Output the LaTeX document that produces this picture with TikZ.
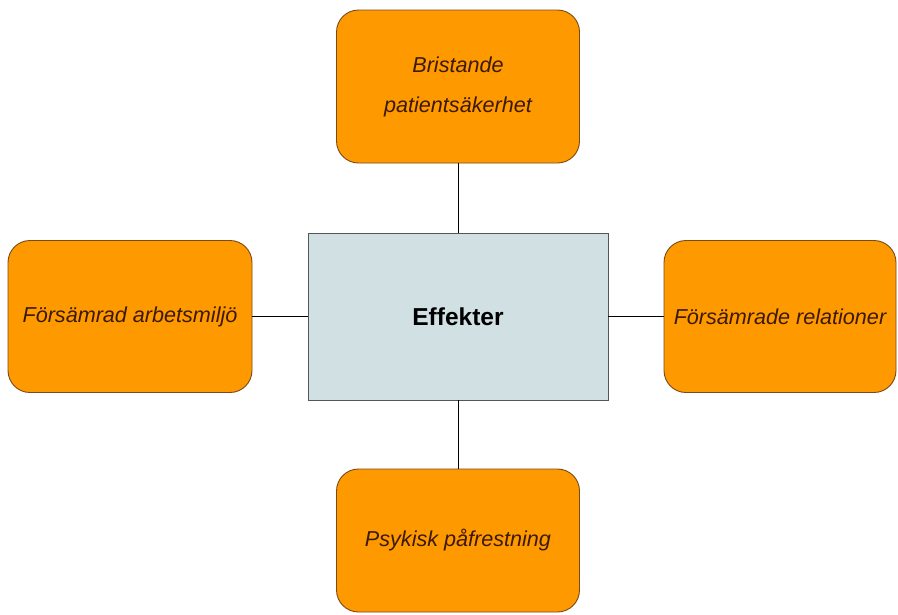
\documentclass[tikz,border=0pt]{standalone}
\usepackage{fontspec}
\setmainfont{Liberation Sans}
\definecolor{boxorange}{HTML}{FF9900}
\definecolor{boxbrown}{HTML}{7A4A1A}
\definecolor{textbrown}{HTML}{3C1A08}
\definecolor{centerfill}{HTML}{D0E0E3}
\definecolor{centerline}{HTML}{555555}
\begin{document}
\begin{tikzpicture}[x=1pt,y=-1pt,line width=0.9pt,
  effekt/.style={draw=boxbrown,fill=boxorange,rounded corners=22pt,align=center,
    text=textbrown,font=\fontsize{21.6}{40}\selectfont\itshape,inner sep=0pt},
  kern/.style={draw=centerline,fill=centerfill,font=\fontsize{24.5}{28}\selectfont\bfseries,inner sep=0pt}]
\useasboundingbox (0,0) rectangle (898,614);
\node[kern,minimum width=300pt,minimum height=167pt] (effekter) at (458,316.5) {Effekter};
\node[effekt,minimum width=243pt,minimum height=153pt] (brist) at (458,86.5) {Bristande\\patientsäkerhet};
\node[effekt,minimum width=244pt,minimum height=152pt] (arbmiljo) at (130,316.5) {Försämrad arbetsmiljö};
\node[effekt,minimum width=232pt,minimum height=152pt] (relation) at (780,316.5) {Försämrade relationer};
\node[effekt,minimum width=243pt,minimum height=143pt] (psyk) at (458,540.5) {Psykisk påfrestning};
\draw (brist) -- (effekter);
\draw (arbmiljo) -- (effekter);
\draw (relation) -- (effekter);
\draw (psyk) -- (effekter);
\end{tikzpicture}
\end{document}
